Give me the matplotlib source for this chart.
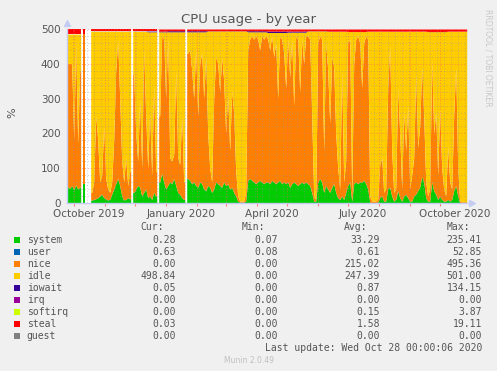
import numpy as np
import matplotlib
matplotlib.use('Agg')
import matplotlib.pyplot as plt
import matplotlib.dates as mdates
from matplotlib.patches import Rectangle

# munin cpu plugin, year view (400 days, 2-day bins, None = no data)
START = np.datetime64('2019-09-24')
END = np.datetime64('2020-10-28')
BIN_DAYS = 2
CPU_TOTAL = 500

SYSTEM = [46, 42, 50, 38, 52, 40, 45, None, 55, None,
          None, None, 8, 10, 12, 15, 20, 25, 15, 12,
          8, 10, 25, 40, 55, 70, 50, 20, 8, 10,
          15, 12, None, 30, 40, 50, 45, 20, 30, 40,
          15, 20, 10, 30, 20, None, 60, 85, 60, 40,
          50, 60, 55, 70, 50, 30, 25, 15, 10, None,
          70, 65, 55, 60, 50, 45, 60, 55, 40, 35,
          50, 45, 30, 40, 60, 55, 50, 45, 60, 50,
          55, 40, 45, 30, 20, 5, 2, 2, 2, 5,
          65, 70, 65, 60, 55, 60, 65, 60, 55, 60,
          60, 55, 65, 60, 55, 60, 65, 55, 60, 55,
          60, 45, 55, 60, 55, 50, 55, 60, 55, 60,
          55, 50, 30, 5, 5, 60, 70, 60, 30, 50,
          40, 30, 45, 55, 30, 15, 10, 20, 10, 30,
          50, 60, 5, 55, 60, 55, 60, 60, 65, 55,
          40, 2, 1, 1, 1, 2, 15, 20, 5, 5,
          40, 45, 20, 5, 10, 35, 15, 5, 20, 25,
          15, 5, 5, 20, 25, 35, 45, 75, 60, 15,
          5, 5, 60, 35, 25, 10, 20, 10, 5, 5,
          10, 5, 10, 35, 50, 20, 1, 1, 1, 0.3]

NICE = [354, 358, 350, 142, 408, 130, 335, None, 435, None,
        None, None, 22, 50, 238, 165, 40, 55, 205, 58,
        32, 20, 35, 140, 325, 395, 250, 100, 52, 120,
        35, 78, None, 340, 160, 70, 255, 80, 410, 210,
        85, 240, 70, 310, 70, None, 190, 395, 410, 260,
        420, 70, 65, 70, 330, 100, 85, 235, 50, None,
        360, 375, 325, 240, 390, 205, 340, 375, 260, 385,
        150, 55, 30, 260, 360, 345, 270, 375, 290, 150,
        255, 110, 275, 230, 70, 15, 3, 3, 3, 25,
        375, 400, 415, 410, 425, 410, 375, 420, 415, 420,
        410, 385, 415, 360, 405, 240, 415, 415, 370, 275,
        410, 315, 415, 220, 425, 420, 265, 410, 345, 420,
        425, 420, 220, 15, 5, 400, 410, 410, 120, 410,
        340, 200, 375, 335, 170, 85, 30, 360, 50, 90,
        410, 410, 15, 345, 410, 425, 400, 270, 395, 425,
        430, 18, 4, 4, 4, 8, 95, 110, 25, 35,
        290, 405, 130, 25, 30, 295, 185, 35, 240, 125,
        265, 35, 75, 110, 345, 125, 175, 315, 190, 45,
        15, 35, 350, 165, 235, 70, 250, 90, 35, 15,
        150, 55, 30, 215, 340, 80, 4, 2, 2, 2.7]

# small series, one value per 20-day block
USER = [0.6, 0.6, 0.7, 0.6, 0.6, 0.6, 0.7, 0.6, 0.6, 0.6,
        0.6, 0.6, 0.6, 0.6, 0.6, 0.6, 0.6, 0.6, 0.6, 0.6]
IOWAIT = [0.5, 0.3, 0.3, 0.5, 2, 3, 3, 0.5, 0.5, 3,
          4, 3, 0.5, 0.5, 0.3, 0.3, 0.5, 0.3, 0.5, 0.3]
STEAL = [14, 6, 6, 6, 6, 5, 5, 5, 5, 5,
         6, 6, 5, 6, 7, 6, 6, 6, 7, 6]

NAMES = ['system', 'user', 'nice', 'idle', 'iowait', 'irq', 'softirq', 'steal', 'guest']
COLORS = ['#00cc00', '#0066b3', '#ff8000', '#ffcc00', '#330099',
          '#990099', '#ccff00', '#ff0000', '#808080']
CUR = ['0.28', '0.63', '0.00', '498.84', '0.05', '0.00', '0.00', '0.03', '0.00']
MIN = ['0.07', '0.08', '0.00', '0.00', '0.00', '0.00', '0.00', '0.00', '0.00']
AVG = ['33.29', '0.61', '215.02', '247.39', '0.87', '0.00', '0.15', '1.58', '0.00']
MAX = ['235.41', '52.85', '495.36', '501.00', '134.15', '0.00', '3.87', '19.11', '0.00']

LABEL_MONTHS = ['2019-10', '2020-01', '2020-04', '2020-07', '2020-10']
LABELS = ['October 2019', 'January 2020', 'April 2020', 'July 2020', 'October 2020']

W, H = 497, 371
TXT = '#555555'

edges = np.arange(START, END + np.timedelta64(1, 'D'), BIN_DAYS)
edge_num = mdates.date2num(edges)
centers = (edge_num[:-1] + edge_num[1:]) / 2
nb = len(edges) - 1
rep = nb // len(USER)

system = np.array(SYSTEM, dtype=float)
nice = np.array(NICE, dtype=float)
user = np.repeat(np.array(USER, dtype=float), rep)
iowait = np.repeat(np.array(IOWAIT, dtype=float), rep)
steal = np.repeat(np.array(STEAL, dtype=float), rep)
idle = CPU_TOTAL - system - user - nice - iowait - steal

layers = [(system, COLORS[0]), (user, COLORS[1]), (nice, COLORS[2]),
          (idle, COLORS[3]), (iowait, COLORS[4]), (steal, COLORS[7])]

# contiguous runs of bins with data
valid = ~np.isnan(system)
runs = []
k = 0
while k < nb:
    if valid[k]:
        j = k
        while j + 1 < nb and valid[j + 1]:
            j += 1
        runs.append((k, j))
        k = j + 1
    else:
        k += 1

fig = plt.figure(figsize=(W / 100, H / 100), dpi=100, facecolor='#f0f0f0')
ax = fig.add_axes([66.7 / W, 168 / H, 400 / W, 174 / H])
ax.set_facecolor('white')

for a, b in runs:
    idx = [a] + list(range(a, b + 1)) + [b]
    xs = np.concatenate([[edge_num[a]], centers[a:b + 1], [edge_num[b + 1]]])
    lower = np.zeros(len(idx))
    for vals, col in layers:
        upper = lower + vals[idx]
        ax.fill_between(xs, lower, upper, color=col, linewidth=0, zorder=1)
        lower = upper

ax.set_xlim(edge_num[0], edge_num[-1])
ax.set_ylim(0, 500)

# grid: weekly / monthly vertical, 20 / 100 horizontal
for y in range(20, 501, 20):
    if y % 100 == 0:
        ax.axhline(y, color='#ff6060', alpha=0.6, lw=0.7, ls=(0, (1, 2)), zorder=3)
    else:
        ax.axhline(y, color='#909090', alpha=0.45, lw=0.7, ls=(0, (1, 2)), zorder=3)
mondays = np.arange(np.datetime64('2019-09-30'), END, 7)
for d in mdates.date2num(mondays):
    ax.axvline(d, color='#909090', alpha=0.45, lw=0.7, ls=(0, (1, 2)), zorder=3)
months = mdates.date2num(np.arange(np.datetime64('2019-10'), np.datetime64('2020-11'), 1).astype('datetime64[D]'))
for d in months:
    ax.axvline(d, color='#ff6060', alpha=0.6, lw=0.7, ls=(0, (1, 2)), zorder=3)

for s in ['top', 'right']:
    ax.spines[s].set_visible(False)
for s in ['left', 'bottom']:
    ax.spines[s].set_color('#c4ccf4')
    ax.spines[s].set_linewidth(1.0)
    ax.spines[s].set_zorder(4)

ax.set_yticks(range(0, 501, 100))
ax.tick_params(axis='y', length=0, pad=4.5, labelsize=7.5, labelcolor=TXT)
label_pos = np.array(LABEL_MONTHS, dtype='datetime64[M]').astype('datetime64[D]') + np.timedelta64(15, 'D')
ax.set_xticks(mdates.date2num(label_pos), LABELS)
ax.tick_params(axis='x', length=0, pad=4.5, labelsize=7.5, labelcolor=TXT)
ax.set_xticks(months, minor=True)
ax.tick_params(axis='x', which='minor', length=2, color='#ff8080', width=0.8)

# axis arrows
ax.plot([0], [1.035], marker='^', ms=4, color='#c4ccf4', transform=ax.transAxes, clip_on=False)
ax.plot([1.012], [0], marker='>', ms=4, color='#c4ccf4', transform=ax.transAxes, clip_on=False)

fig.text(0.5, 1 - 19.5 / H, 'CPU usage - by year', ha='center', va='center',
         fontsize=9.5, color=TXT)
fig.text(12 / W, 1 - 113 / H, '%', rotation=90, ha='center', va='center',
         fontsize=8, color=TXT)
fig.text(488 / W, 1 - 58 / H, 'RRDTOOL / TOBI OETIKER', rotation=270, ha='center',
         va='center', fontsize=5.5, color='#c8c8c8')

mono = 'DejaVu Sans Mono'
fs = 7
for x, h in zip([140, 242, 344, 447], ['Cur:', 'Min:', 'Avg:', 'Max:']):
    fig.text(x / W, 1 - 227.3 / H, h, ha='left', va='center', family=mono, fontsize=fs, color=TXT)

for i, name in enumerate(NAMES):
    yc = 239.7 + 12 * i
    fig.add_artist(Rectangle((14 / W, 1 - (yc + 3) / H), 6 / W, 6 / H,
                             transform=fig.transFigure, color=COLORS[i], lw=0))
    fig.text(26.7 / W, 1 - yc / H, name, ha='left', va='center', family=mono, fontsize=fs, color=TXT)
    for x, col in zip([176, 278, 380, 482], [CUR, MIN, AVG, MAX]):
        fig.text(x / W, 1 - yc / H, col[i], ha='right', va='center', family=mono,
                 fontsize=fs, color=TXT)

fig.text(482 / W, 1 - 347.7 / H, 'Last update: Wed Oct 28 00:00:06 2020', ha='right',
         va='center', family=mono, fontsize=fs, color=TXT)
fig.text(249 / W, 1 - 360.5 / H, 'Munin 2.0.49', ha='center', va='center',
         fontsize=5.5, color='#c0c0c0')

fig.savefig('out.png', dpi=100, facecolor=fig.get_facecolor())
